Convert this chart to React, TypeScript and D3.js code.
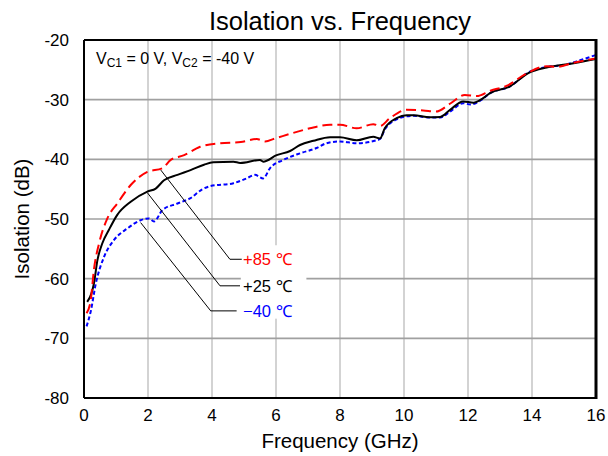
import React from "react";
import * as d3 from "d3";

const xTicks = [0, 2, 4, 6, 8, 10, 12, 14, 16];
const yTicks = [-80, -70, -60, -50, -40, -30, -20];

const freqP25 = [0.1, 0.23, 0.31, 0.42, 0.57, 0.78, 1.04, 1.46, 1.98, 2.24, 2.5, 2.92, 3.33, 3.75, 4.04, 4.67, 4.88, 5.5, 5.6, 6.02, 6.44, 6.75, 7.17, 7.69, 8.0, 8.52, 9.04, 9.25, 9.4, 9.77, 10.08, 10.3, 10.8, 11.13, 11.44, 11.85, 12.17, 12.43, 12.69, 13.3, 13.9, 14.46, 15.3, 16];
const isoP25 = [-63.9, -62.5, -60.8, -56.9, -54.1, -51.8, -49.3, -47.1, -45.4, -44.9, -43.5, -42.6, -41.8, -40.9, -40.5, -40.4, -40.6, -40.1, -40.4, -39.3, -38.6, -37.6, -36.9, -36.3, -36.3, -36.8, -36.2, -36.5, -34.8, -33.1, -32.6, -32.6, -32.96, -32.9, -31.7, -30.3, -30.5, -29.9, -28.9, -27.8, -25.5, -24.6, -23.9, -23.2];

const freqP85 = [0.08, 0.21, 0.31, 0.47, 0.73, 1.04, 1.46, 1.98, 2.45, 2.71, 3.13, 3.63, 4.25, 4.9, 5.4, 5.66, 5.97, 6.65, 7.06, 7.69, 8.0, 8.52, 9.04, 9.25, 9.56, 10.08, 10.6, 11.0, 11.46, 11.9, 12.27, 12.7, 13.2, 13.83, 14.46, 14.77, 15.3, 16];
const isoP85 = [-65.8, -63.6, -58.5, -54.1, -49.9, -47.4, -44.3, -42.1, -41.5, -40.1, -39.3, -37.9, -37.3, -37.1, -36.6, -37.0, -36.5, -35.4, -34.8, -34.2, -34.2, -34.8, -34.1, -34.4, -33.1, -31.7, -31.8, -32.0, -30.6, -29.2, -29.4, -28.5, -27.7, -25.6, -24.4, -24.5, -23.8, -23.1];

const freqM40 = [0.08, 0.21, 0.37, 0.63, 0.94, 1.35, 1.77, 2.03, 2.19, 2.45, 2.92, 3.33, 3.7, 3.94, 4.67, 5.08, 5.34, 5.6, 5.81, 6.23, 6.75, 7.27, 7.58, 8.0, 8.52, 9.15, 9.25, 9.4, 9.77, 10.08, 10.3, 10.8, 11.13, 11.44, 11.85, 12.08, 12.43, 12.69, 13.3, 13.9, 14.46, 15.0, 15.5, 16];
const isoM40 = [-68.0, -65.5, -60.8, -56.3, -53.5, -51.6, -50.2, -49.9, -50.4, -48.5, -47.4, -46.5, -45.0, -44.5, -44.0, -43.2, -42.6, -43.2, -41.5, -40.1, -39.0, -38.1, -37.3, -37.0, -37.3, -36.8, -36.6, -35.0, -33.3, -32.8, -32.7, -33.0, -33.0, -32.0, -30.6, -30.8, -30.0, -28.9, -27.8, -25.4, -24.5, -24.2, -23.4, -22.5];

const labelTexts = ["+85 ℃", "+25 ℃", "\u221240 ℃"];
const labelColors = ["#ff0000", "#000000", "#0000ff"];
// leader: start point on curve, elbow, end of horizontal (frequency, dB)
const leaderStart = [[2.4, -41.8], [1.98, -45.6], [1.77, -50.6]];
const leaderElbow = [[4.56, -56.75], [4.25, -61.2], [3.96, -65.4]];
const leaderEndF = [4.93, 4.875, 4.77];
const labelF = 4.97;

const W = 608, H = 456;
const m = { left: 84, right: 12, top: 40, bottom: 58 };

export default function App() {
  const x = d3.scaleLinear().domain([0, 16]).range([m.left, W - m.right]);
  const y = d3.scaleLinear().domain([-80, -20]).range([H - m.bottom, m.top]);
  const line = d3
    .line<[number, number]>()
    .x((d) => x(d[0]))
    .y((d) => y(d[1]))
    .curve(d3.curveMonotoneX);
  const series = [
    { f: freqM40, v: isoM40, color: "#0000ff", dash: "4,2.5" },
    { f: freqP25, v: isoP25, color: "#000000", dash: "none" },
    { f: freqP85, v: isoP85, color: "#ff0000", dash: "10,5" },
  ];
  const font = "'Liberation Sans', Arial, Helvetica, sans-serif";
  const x0 = x(0), x1 = x(16), y0 = y(-80), y1 = y(-20);
  return (
    <div style={{ position: "fixed", left: 0, top: 0 }}>
      <svg width={W} height={H} style={{ display: "block", background: "#fff" }} fontFamily={font}>
        <rect x={0} y={0} width={W} height={H} fill="#fff" />
        {xTicks.slice(1, -1).map((t) => (
          <line key={"gx" + t} x1={x(t)} x2={x(t)} y1={y1} y2={y0} stroke="#c8c8c8" strokeWidth={1.6} />
        ))}
        {yTicks.slice(1, -1).map((t) => (
          <line key={"gy" + t} x1={x0} x2={x1} y1={y(t)} y2={y(t)} stroke="#a0a0a0" strokeWidth={1.6} />
        ))}
        <rect x={x(4.9)} y={y(-54.4)} width={x(6.95) - x(4.9)} height={y(-66.7) - y(-54.4)} fill="#fff" />
        {series.map((s, i) => (
          <path
            key={i}
            d={line(s.f.map((f, j) => [f, s.v[j]] as [number, number])) || ""}
            fill="none"
            stroke={s.color}
            strokeWidth={2}
            strokeDasharray={s.dash}
          />
        ))}
        {labelTexts.map((t, i) => (
          <g key={t}>
            <polyline
              points={`${x(leaderStart[i][0])},${y(leaderStart[i][1])} ${x(leaderElbow[i][0])},${y(leaderElbow[i][1])} ${x(leaderEndF[i])},${y(leaderElbow[i][1])}`}
              fill="none"
              stroke="#000"
              strokeWidth={1}
            />
            <text x={x(labelF)} y={y(leaderElbow[i][1]) + 6} fontSize={16.5} fill={labelColors[i]}>
              {t}
            </text>
          </g>
        ))}
        <line x1={x0} x2={x1} y1={y1} y2={y1} stroke="#000" strokeWidth={2} />
        <line x1={x0} x2={x1} y1={y0} y2={y0} stroke="#000" strokeWidth={2} />
        <line x1={x0} x2={x0} y1={y1} y2={y0} stroke="#000" strokeWidth={2} />
        <line x1={x1} x2={x1} y1={y1 - 1} y2={y0 + 1} stroke="#000" strokeWidth={3} />
        {yTicks.map((t) => (
          <text key={"ty" + t} x={x0 - 15} y={y(t) + 6} fontSize={17} textAnchor="end" fill="#000">
            {t}
          </text>
        ))}
        {xTicks.map((t) => (
          <text key={"tx" + t} x={x(t)} y={y0 + 23} fontSize={17} textAnchor="middle" fill="#000">
            {t}
          </text>
        ))}
        <text x={(x0 + x1) / 2} y={30} fontSize={25.5} textAnchor="middle" fill="#000">
          Isolation vs. Frequency
        </text>
        <text x={(x0 + x1) / 2} y={448} fontSize={20.5} textAnchor="middle" fill="#000">
          Frequency (GHz)
        </text>
        <text transform={`translate(29,${(y0 + y1) / 2}) rotate(-90)`} fontSize={20.5} textAnchor="middle" fill="#000">
          Isolation (dB)
        </text>
        <text x={96} y={64} fontSize={16} fill="#000">
          V<tspan fontSize={12} dy={3}>C1</tspan>
          <tspan dy={-3}> = 0 V, V</tspan>
          <tspan fontSize={12} dy={3}>C2</tspan>
          <tspan dy={-3}> = -40 V</tspan>
        </text>
      </svg>
    </div>
  );
}
